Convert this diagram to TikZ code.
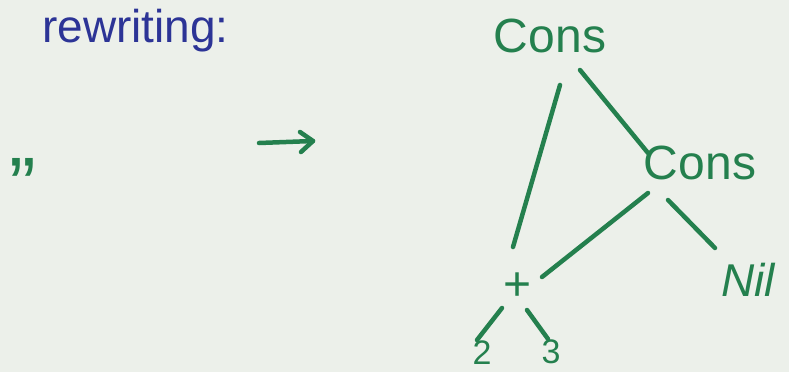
\documentclass[tikz,border=0pt]{standalone}
\usepackage{fontspec}
\setmainfont{Liberation Sans}
\definecolor{paper}{RGB}{236,240,234}
\definecolor{pen}{RGB}{36,128,78}
\definecolor{ink}{RGB}{44,52,150}
\tikzset{
  lbl/.style={text=pen, inner sep=0pt, font=\fontsize{48}{48}\selectfont},
  small/.style={text=pen, inner sep=0pt, anchor=base, text depth=0pt, font=\fontsize{34}{34}\selectfont},
  edge/.style={draw=pen, line width=4.5pt, line cap=round, line join=round},
}
\begin{document}
\begin{tikzpicture}[x=1pt,y=-1pt]
\fill[paper] (0,0) rectangle (789,372);
\useasboundingbox (0,0) rectangle (789,372);
% heading
\node[anchor=base west, text=ink, inner sep=0pt, font=\fontsize{46}{46}\selectfont] (title) at (42,42) {rewriting:};
\node[anchor=base, text=pen, inner sep=0pt, font=\fontsize{80}{80}\selectfont] (ditto) at (23,213) {”};
% arrow
\coordinate (a1) at (259,143);
\coordinate (a2) at (313,141);
\draw[edge] (a1) -- (a2);
\draw[edge] ([shift={(-13,-9)}]a2) -- (a2) -- ([shift={(-12,11)}]a2);
% tree
\node[lbl] (cons1) at (550,36) {Cons};
\node[lbl] (cons2) at (700,163) {Cons};
\node[lbl] (plus) at (518,287) {+};
\node[lbl, font=\fontsize{46}{46}\selectfont\itshape] (nil) at (748,280) {Nil};
\node[small] (two) at (482,364) {2};
\node[small] (three) at (551,363) {3};
\draw[edge] ([shift={(10,49)}]cons1.center) -- ([shift={(-5,-40)}]plus.center);
\draw[edge] ([shift={(30,34)}]cons1.center) -- ([shift={(-52,-10)}]cons2.center);
\draw[edge] ([shift={(-52,30)}]cons2.center) -- ([shift={(24,-10)}]plus.center);
\draw[edge] ([shift={(-32,37)}]cons2.center) -- ([shift={(-33,-32)}]nil.center);
\draw[edge] ([shift={(-16,21)}]plus.center) -- ([shift={(-5,-24)}]two.base);
\draw[edge] ([shift={(9,23)}]plus.center) -- ([shift={(-3,-24)}]three.base);
\end{tikzpicture}
\end{document}
